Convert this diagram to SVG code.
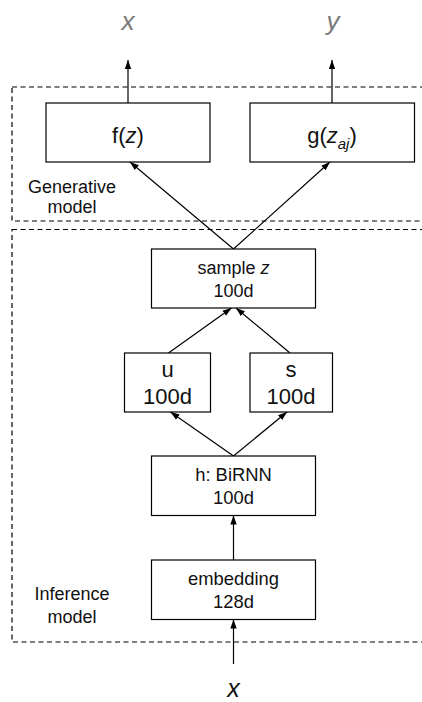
<svg xmlns="http://www.w3.org/2000/svg" width="422" height="702" viewBox="0 0 422 702">
<defs>
<marker id="ah" markerUnits="userSpaceOnUse" markerWidth="10" markerHeight="10" viewBox="0 0 10 10" refX="9" refY="5" orient="auto">
<path d="M0,1.8 L9,5 L0,8.2 Z" fill="#000"/>
</marker>
<style>
.box{fill:#fff;stroke:#000;stroke-width:1.2}
.dash{fill:none;stroke:#000;stroke-width:1.2;stroke-dasharray:5 3.5}
.t{font-family:"Liberation Sans",Arial,sans-serif;fill:#111;text-anchor:middle}
.edge{stroke:#000;stroke-width:1.2;fill:none;marker-end:url(#ah)}
</style>
</defs>
<rect width="422" height="702" fill="#fff"/>
<g id="regions">
<rect class="dash" x="12" y="87" width="430" height="134"/>
<rect class="dash" x="12" y="229.5" width="430" height="412.5"/>
<text class="t" x="72" y="193" font-size="18">Generative</text>
<text class="t" x="72" y="213" font-size="18">model</text>
<text class="t" x="72" y="600" font-size="18">Inference</text>
<text class="t" x="72" y="623" font-size="18">model</text>
</g>
<g id="labels">
<text class="t" x="128" y="30" font-size="26" font-style="italic" style="fill:#7a7a7a">x</text>
<text class="t" x="333" y="30" font-size="26" font-style="italic" style="fill:#7a7a7a">y</text>
<text class="t" x="233.5" y="697" font-size="25" font-style="italic">x</text>
</g>
<g id="connectors">
<line class="edge" x1="128" y1="103" x2="128" y2="60"/>
<line class="edge" x1="332" y1="103" x2="332" y2="60"/>
<line class="edge" x1="233.5" y1="249" x2="130" y2="162"/>
<line class="edge" x1="233.5" y1="249" x2="330" y2="162"/>
<line class="edge" x1="168.5" y1="353" x2="231.5" y2="308"/>
<line class="edge" x1="290" y1="353" x2="236" y2="308"/>
<line class="edge" x1="233.5" y1="456" x2="170.5" y2="412"/>
<line class="edge" x1="233.5" y1="456" x2="287" y2="412"/>
<line class="edge" x1="233.5" y1="560" x2="233.5" y2="515.5"/>
<line class="edge" x1="233.5" y1="664" x2="233.5" y2="619.5"/>
</g>
<g id="f">
<rect class="box" x="46" y="103" width="164" height="59"/>
<text class="t" x="128" y="143" font-size="22">f(<tspan font-style="italic">z</tspan>)</text>
</g>
<g id="g">
<rect class="box" x="250" y="103" width="164.5" height="59"/>
<text class="t" x="332" y="143" font-size="22">g(<tspan font-style="italic">z</tspan><tspan font-style="italic" font-size="15" dy="6">aj</tspan><tspan dy="-6">)</tspan></text>
</g>
<g id="sample">
<rect class="box" x="151.5" y="249" width="164" height="59"/>
<text class="t" x="233.5" y="274" font-size="18">sample <tspan font-style="italic">z</tspan></text>
<text class="t" x="233.5" y="297" font-size="18">100d</text>
</g>
<g id="u">
<rect class="box" x="124.5" y="353" width="86" height="59"/>
<text class="t" x="167.5" y="377" font-size="22">u</text>
<text class="t" x="167.5" y="404" font-size="22">100d</text>
</g>
<g id="s">
<rect class="box" x="250" y="353" width="82.5" height="59"/>
<text class="t" x="291" y="377" font-size="22">s</text>
<text class="t" x="291" y="404" font-size="22">100d</text>
</g>
<g id="h">
<rect class="box" x="151.5" y="456" width="164" height="59.5"/>
<text class="t" x="233.5" y="481" font-size="18.4">h: BiRNN</text>
<text class="t" x="233.5" y="504" font-size="18.4">100d</text>
</g>
<g id="embedding">
<rect class="box" x="151.5" y="560" width="164" height="59.5"/>
<text class="t" x="233.5" y="585" font-size="18.4">embedding</text>
<text class="t" x="233.5" y="608" font-size="18.4">128d</text>
</g>
</svg>
